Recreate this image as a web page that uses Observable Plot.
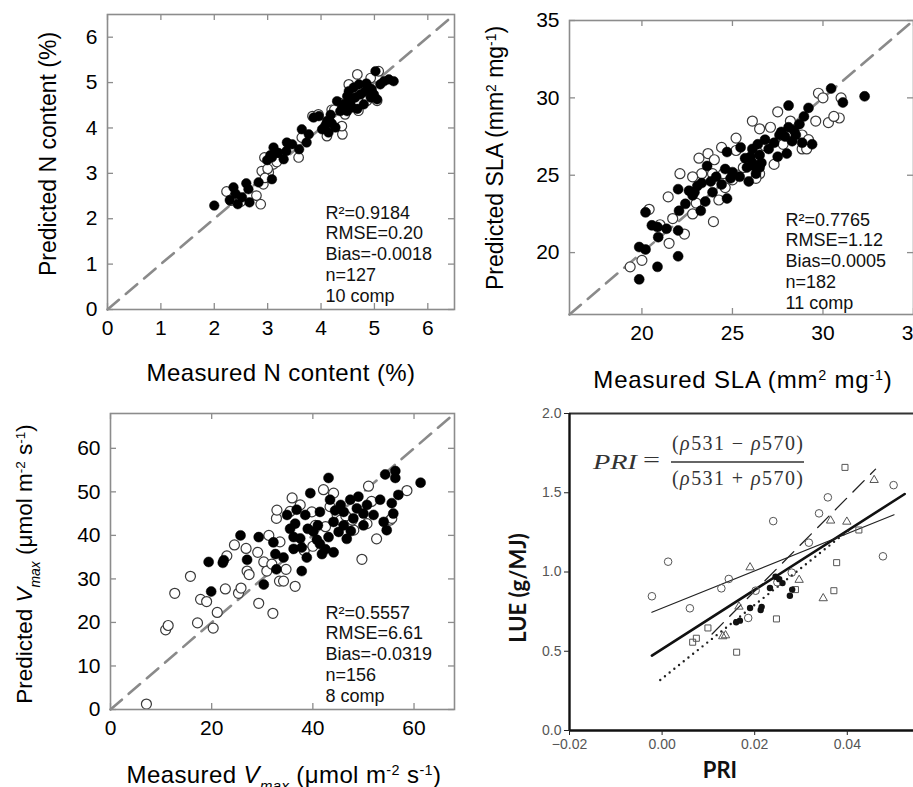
<!DOCTYPE html>
<html><head><meta charset="utf-8">
<script src="https://cdn.jsdelivr.net/npm/d3@7"></script>
<script src="https://cdn.jsdelivr.net/npm/@observablehq/plot@0.6"></script>
<style>
html,body{margin:0;padding:0;background:#fff;}
#wrap{position:relative;width:913px;height:787px;overflow:hidden;background:#fff;}
</style></head><body><div id="wrap"></div>
<script>
// ---------- Panel A: N content ----------
const nTicks = [0,1,2,3,4,5,6];
const nDomain = [0, 6.5];
const nStats = ["R²=0.9184","RMSE=0.20","Bias=-0.0018","n=127","10 comp"];
const nFilled = [[2.00,2.29],[2.29,2.41],[2.36,2.69],[2.44,2.32],[2.52,2.47],[2.60,2.78],[2.64,2.65],[2.66,2.36],[2.83,2.80],[3.08,2.87],[2.99,3.29],[3.11,3.57],[3.08,3.35],[3.30,3.31],[3.35,3.49],[3.36,3.68],[3.46,3.64],[3.59,3.53],[3.64,3.97],[3.73,3.68],[3.77,3.86],[3.86,4.23],[3.96,4.26],[4.02,3.97],[4.11,4.15],[4.14,3.90],[4.18,4.29],[4.27,4.01],[4.30,4.59],[4.36,4.37],[4.43,4.52],[4.49,4.70],[4.52,4.81],[4.58,4.45],[4.61,4.89],[4.64,4.67],[4.71,4.96],[4.74,4.74],[4.80,4.52],[4.83,4.81],[4.89,4.89],[4.93,4.67],[4.99,4.74],[5.02,5.25],[5.05,4.63],[5.11,4.96],[5.18,5.03],[5.27,5.07],[5.36,5.03],[4.49,4.37],[4.40,4.45],[4.55,4.55],[4.68,4.42],[4.85,4.98],[4.95,4.85],[3.05,3.40],[3.20,3.45],[4.08,4.05],[2.40,2.55],[4.20,4.10]];
const nOpen = [[2.23,2.60],[2.31,2.40],[2.50,2.38],[2.79,2.51],[2.87,2.32],[2.92,2.76],[2.94,3.35],[2.89,3.05],[3.02,3.02],[3.11,3.20],[3.17,3.25],[3.58,3.35],[3.64,3.79],[3.84,4.26],[4.11,3.82],[4.40,3.86],[4.39,4.04],[4.35,4.55],[4.68,5.18],[4.52,4.96],[4.93,5.10],[5.08,5.25],[4.45,4.30],[4.70,4.38],[4.20,4.40],[3.95,4.30],[4.86,4.60],[5.05,4.60],[4.25,4.40],[4.60,4.70],[3.00,3.10],[2.95,2.90]];

// ---------- Panel B: SLA ----------
const slaTicks = [20,25,30,35];
const slaDomain = [16, 35];
const slaStats = ["R²=0.7765","RMSE=1.12","Bias=0.0005","n=182","11 comp"];
const slaFilled = [[19.85,18.27],[19.85,20.36],[20.2,20.2],[20.2,22.6],[20.55,21.76],[20.86,21.65],[20.9,21.0],[20.86,19.08],[21.36,21.54],[22.0,21.43],[22.0,19.76],[22.0,24.1],[22.05,22.7],[22.4,23.15],[22.6,24.0],[22.8,23.7],[23.06,24.3],[23.25,22.7],[23.3,24.5],[23.5,23.3],[23.6,25.6],[23.9,23.9],[24.1,24.9],[24.4,24.4],[24.6,25.4],[24.7,26.5],[24.7,23.5],[25.0,25.2],[25.4,24.9],[25.45,26.8],[25.7,26.1],[25.8,25.5],[25.9,24.6],[26.1,26.7],[26.1,25.8],[26.3,25.1],[26.4,27.0],[26.5,26.3],[26.5,25.5],[26.6,25.8],[26.8,27.3],[27.0,26.7],[27.3,27.1],[27.5,26.2],[27.6,27.6],[27.7,27.8],[28.0,26.4],[28.1,28.1],[28.1,29.5],[28.3,27.2],[28.5,27.6],[28.7,28.3],[28.95,28.8],[29.2,29.35],[29.4,27.0],[30.45,30.6],[31.1,29.7],[32.3,30.1],[28.85,27.1],[26.0,26.2],[26.2,25.6],[23.8,24.6],[22.9,23.9],[24.9,24.8],[27.9,27.5],[28.4,27.9]];
const slaOpen = [[19.35,19.08],[20.0,19.5],[20.4,22.8],[21.45,23.6],[21.5,20.6],[22.1,25.1],[22.35,21.2],[21.7,22.2],[22.8,22.5],[23.15,26.1],[23.65,26.4],[23.95,22.0],[24.25,23.4],[24.4,26.8],[24.5,25.1],[25.2,27.4],[25.0,24.7],[26.1,28.5],[26.5,25.1],[26.5,28.0],[27.1,28.1],[27.5,29.1],[27.3,25.7],[28.2,28.5],[28.85,26.7],[29.1,26.7],[28.85,27.6],[29.75,30.3],[30.0,30.0],[30.3,28.4],[30.9,28.7],[31.0,30.0],[30.6,28.8],[25.6,25.5],[23.9,25.1],[23.3,25.1],[22.8,24.9],[24.0,26.0],[25.2,26.6],[26.8,26.9],[27.8,27.0],[29.2,27.3],[21.0,21.8],[23.0,23.2],[24.6,24.2],[26.3,24.8],[29.6,28.5]];

// ---------- Panel C: Vmax ----------
const vTicksX = [0,20,40,60];
const vTicksY = [0,10,20,30,40,50,60];
const vDomain = [0, 68];
const vStats = ["R²=0.5557","RMSE=6.61","Bias=-0.0319","n=156","8 comp"];
const vFilled = [[19.4,33.9],[19.9,27.1],[22.2,33.7],[22.4,34.3],[25.7,40.0],[27.0,34.4],[29.3,39.6],[30.3,28.7],[32.2,38.4],[32.6,35.7],[32.8,32.2],[34.2,34.9],[34.9,44.7],[35.5,41.5],[36.2,36.9],[36.5,42.7],[36.8,45.9],[37.5,39.3],[37.8,31.8],[38.5,44.7],[38.8,34.9],[39.5,49.7],[40.1,40.9],[40.8,39.0],[41.4,45.4],[41.8,35.7],[43.1,53.2],[43.4,48.2],[44.1,43.1],[44.1,36.1],[45.1,40.8],[46.1,45.4],[46.7,39.2],[47.4,48.2],[48.0,43.9],[48.7,46.2],[49.0,48.9],[50.0,42.3],[50.7,47.0],[52.0,44.7],[53.3,48.2],[54.0,43.1],[54.3,54.0],[54.6,41.2],[55.6,47.4],[55.9,45.0],[56.3,54.8],[56.3,53.2],[56.9,49.3],[61.3,52.1],[41.0,42.3],[43.1,39.6],[44.4,45.7],[46.1,42.3],[36.2,39.6],[37.8,37.2],[41.4,38.0],[39.0,41.5],[42.5,36.8],[47.5,41.0],[45.5,47.0],[50.0,45.0]];
const vOpen = [[7.1,1.25],[10.9,18.3],[11.4,19.3],[12.7,26.7],[15.8,30.6],[17.2,19.9],[17.8,25.3],[19.0,24.8],[20.3,18.7],[21.1,22.3],[22.7,27.7],[23.0,35.3],[24.5,37.8],[25.3,26.7],[25.8,27.9],[26.8,37.0],[27.0,31.8],[27.4,31.0],[29.1,36.1],[29.3,24.4],[30.3,33.9],[30.9,31.8],[31.3,40.0],[31.9,33.4],[32.1,22.1],[32.8,43.9],[32.9,45.8],[33.4,29.5],[34.2,29.5],[34.7,32.2],[35.9,48.6],[36.5,28.3],[37.5,47.0],[38.3,36.5],[39.8,45.4],[40.5,42.3],[42.1,50.5],[43.4,46.6],[44.1,49.7],[44.8,44.7],[45.5,43.5],[48.1,41.2],[49.7,34.5],[50.7,42.7],[51.0,51.3],[51.6,47.8],[52.6,39.2],[55.3,43.5],[55.6,43.9],[58.6,50.3],[47.8,43.5],[40.0,37.5],[35.5,45.5],[46.5,44.5],[42.5,42.0],[33.5,38.5]];

// ---------- Panel D: LUE vs PRI ----------
const priTicks = [-0.02, 0, 0.02, 0.04];
const lueTicks = [0, 0.5, 1, 1.5, 2];
const priDomain = [-0.02, 0.0543];
const lueDomain = [0, 2];
const priCircles = [[-0.0022,0.847],[0.0013,1.065],[0.006,0.771],[0.0128,0.897],[0.0144,0.956],[0.024,1.321],[0.0339,1.37],[0.0358,1.471],[0.028,0.996],[0.05,1.548],[0.0477,1.099],[0.0186,0.71],[0.0202,0.882],[0.0249,0.935],[0.0317,1.185]];
const priTriangles = [[0.019,1.029],[0.0166,0.781],[0.0137,0.60],[0.0131,0.594],[0.0364,1.324],[0.0399,1.317],[0.0458,1.58],[0.0348,0.834],[0.0296,0.95]];
const priSquares = [[0.0395,1.66],[0.0425,1.265],[0.0377,1.059],[0.0371,0.882],[0.0288,0.889],[0.0247,0.704],[0.0099,0.647],[0.0161,0.494],[0.0066,0.557],[0.0074,0.582]];
const priFilled = [[0.0168,0.693],[0.0160,0.683],[0.019,0.773],[0.0213,0.76],[0.0215,0.78],[0.0233,0.899],[0.0245,0.97],[0.026,0.93],[0.0276,0.85],[0.0281,0.889],[0.0253,0.955]];
const fitAll = [[-0.0022,0.473],[0.0524,1.492]];
const fitCircles = [[-0.0022,0.746],[0.0501,1.361]];
const fitDotted = [[-0.0004,0.319],[0.0411,1.282]];
const fitDashed = [[0.0108,0.609],[0.0461,1.649]];

// ---------- helpers ----------
const wrap = document.getElementById("wrap");
const FONT = "'Liberation Sans', Arial, sans-serif";
function place(svg, left, top) {
  svg.style.position = "absolute";
  svg.style.left = left + "px";
  svg.style.top = top + "px";
  wrap.appendChild(svg);
  return svg;
}
function rich(svg, x, y, parts, {size = 24, rotate = 0, family = FONT, weight = "normal", fill = "#000", spacing = 0.4} = {}) {
  const t = d3.select(svg).append("text")
    .attr("transform", `translate(${x},${y}) rotate(${rotate})`)
    .attr("text-anchor", "middle")
    .attr("font-family", family).attr("font-size", size)
    .attr("letter-spacing", spacing)
    .attr("font-weight", weight).attr("fill", fill);
  for (const p of parts) {
    const s = t.append("tspan").text(p.t);
    if (p.i) s.attr("font-style", "italic");
    if (p.sup) s.attr("baseline-shift", "super").attr("font-size", size * 0.6);
    if (p.sub) s.attr("baseline-shift", "sub").attr("font-size", size * 0.62);
  }
  return t;
}
const px = d => d[0], py = d => d[1];

function matlab({w, h, mt, mb, ml, mr, domain, ticksX, ticksY, filled, open, stats, r, sdx, sdy}) {
  const fw = w - ml - mr, fh = h - mt - mb, tl = 6, gray = "#8c8c8c";
  return Plot.plot({
    width: w, height: h, marginTop: mt, marginBottom: mb, marginLeft: ml, marginRight: mr,
    style: {background: "transparent", fontFamily: FONT, fontSize: "21px", color: "#000", overflow: "visible"},
    x: {domain, label: null}, y: {domain, label: null},
    marks: [
      Plot.line(domain.map(v => [v, v]), {x: px, y: py, stroke: "#8a8a8a", strokeWidth: 2.6, strokeDasharray: "15,9"}),
      Plot.dot(open, {x: px, y: py, r, fill: "white", stroke: "#3a3a3a", strokeWidth: 1.2}),
      Plot.dot(filled, {x: px, y: py, r, fill: "#000", stroke: "#000", strokeWidth: 0.5}),
      Plot.tickX(ticksX, {x: d => d, insetTop: fh - tl, stroke: gray, strokeWidth: 1.3}),
      Plot.tickX(ticksX, {x: d => d, insetBottom: fh - tl, stroke: gray, strokeWidth: 1.3}),
      Plot.tickY(ticksY, {y: d => d, insetRight: fw - tl, stroke: gray, strokeWidth: 1.3}),
      Plot.tickY(ticksY, {y: d => d, insetLeft: fw - tl, stroke: gray, strokeWidth: 1.3}),
      Plot.frame({stroke: gray, strokeWidth: 1.6}),
      Plot.axisX({ticks: ticksX, tickSize: 0, tickPadding: 11, label: null, tickFormat: d => String(d)}),
      Plot.axisY({ticks: ticksY, tickSize: 0, tickPadding: 10, label: null, tickFormat: d => String(d)}),
      Plot.text([stats.join("\n")], {frameAnchor: "bottom-right", textAnchor: "start", lineAnchor: "bottom", dx: sdx, dy: sdy, fontSize: 18, lineHeight: 1.15, fill: "#111"})
    ]
  });
}

// Panel A
const pA = place(matlab({w: 460, h: 395, mt: 14, mb: 86, ml: 107, mr: 6, domain: nDomain, ticksX: nTicks, ticksY: nTicks,
  filled: nFilled, open: nOpen, stats: nStats, r: 4.8, sdx: -129, sdy: -8}), 0, 0);
rich(pA, 281, 381, [{t: "Measured N content (%)"}]);
rich(pA, 56, 154, [{t: "Predicted N content (%)"}], {rotate: -90, size: 23, spacing: 0});

// Panel B
const pB = place(matlab({w: 453, h: 395, mt: 20, mb: 81, ml: 109, mr: 0, domain: slaDomain, ticksX: slaTicks, ticksY: slaTicks,
  filled: slaFilled, open: slaOpen, stats: slaStats, r: 5, sdx: -128, sdy: -6}), 460, 0);
rich(pB, 283, 388, [{t: "Measured SLA (mm"}, {t: "2", sup: true}, {t: " mg"}, {t: "-1", sup: true}, {t: ")"}], {spacing: 0.8});
rich(pB, 43, 158, [{t: "Predicted SLA (mm"}, {t: "2", sup: true}, {t: " mg"}, {t: "-1", sup: true}, {t: ")"}], {rotate: -90, size: 23, spacing: 0});

// Panel C
const pC = place(matlab({w: 460, h: 417, mt: 43, mb: 78, ml: 110, mr: 6, domain: vDomain, ticksX: vTicksX, ticksY: vTicksY,
  filled: vFilled, open: vOpen, stats: vStats, r: 5, sdx: -129, sdy: -8}), 0, 370);
const vUnit = [{t: " (μmol m"}, {t: "-2", sup: true}, {t: " s"}, {t: "-1", sup: true}, {t: ")"}];
rich(pC, 284, 413, [{t: "Measured "}, {t: "V", i: true}, {t: "max", sub: true, i: true}, ...vUnit]);
rich(pC, 32, 194, [{t: "Predicted "}, {t: "V", i: true}, {t: "max", sub: true, i: true}, ...vUnit], {rotate: -90, size: 22.5, spacing: 0});

// Panel D
const pD = place(Plot.plot({
  width: 453, height: 417, marginTop: 43, marginBottom: 57, marginLeft: 109, marginRight: 0,
  style: {background: "transparent", fontFamily: FONT, fontSize: "14px", overflow: "visible"},
  x: {domain: priDomain, label: null}, y: {domain: lueDomain, label: null},
  marks: [
    Plot.line(fitAll, {x: px, y: py, stroke: "#111", strokeWidth: 2.6}),
    Plot.line(fitCircles, {x: px, y: py, stroke: "#222", strokeWidth: 1.2}),
    Plot.line(fitDotted, {x: px, y: py, stroke: "#222", strokeWidth: 2.4, strokeDasharray: "0,6", strokeLinecap: "round"}),
    Plot.line(fitDashed, {x: px, y: py, stroke: "#222", strokeWidth: 1.3, strokeDasharray: "16,9"}),
    Plot.dot(priCircles, {x: px, y: py, r: 3.8, stroke: "#555", fill: "none", strokeWidth: 1}),
    Plot.dot(priTriangles, {x: px, y: py, r: 3.1, symbol: "triangle", stroke: "#555", fill: "none", strokeWidth: 1}),
    Plot.dot(priSquares, {x: px, y: py, r: 3.4, symbol: "square", stroke: "#555", fill: "none", strokeWidth: 1}),
    Plot.dot(priFilled, {x: px, y: py, r: 3.2, fill: "#111"}),
    Plot.ruleY([lueDomain[1]], {stroke: "#333", strokeWidth: 2}),
    Plot.ruleX([priDomain[1]], {stroke: "#ccc", strokeWidth: 1}),
    Plot.ruleY([lueDomain[0]], {stroke: "#111", strokeWidth: 2.6}),
    Plot.ruleX([priDomain[0]], {stroke: "#111", strokeWidth: 2.4}),
    Plot.axisX({ticks: priTicks, tickSize: 5, tickPadding: 4, stroke: "#222", fill: "#555", label: null, tickFormat: d3.format(".2f")}),
    Plot.axisY({ticks: lueTicks, tickSize: 5, tickPadding: 3, stroke: "#222", fill: "#555", label: null, tickFormat: d3.format(".1f")})
  ]
}), 460, 370);
rich(pD, 66, 218, [{t: "LUE (g/MJ)"}], {rotate: -90, family: "Lato, 'Open Sans', sans-serif", weight: "bold", size: 22, fill: "#111", spacing: 0});
rich(pD, 260, 408, [{t: "PRI"}], {family: "Lato, 'Open Sans', sans-serif", weight: "bold", size: 22, fill: "#111", spacing: 0});

// formula
const SERIF = "'Liberation Serif', 'DejaVu Serif', serif";
const g = d3.select(pD).append("g").attr("font-family", SERIF).attr("fill", "#333").attr("font-size", 20).attr("text-anchor", "start");
g.append("text").attr("x", 133).attr("y", 99).attr("font-style", "italic").attr("textLength", 44).attr("lengthAdjust", "spacingAndGlyphs").text("PRI");
g.append("text").attr("x", 183).attr("y", 97).attr("textLength", 17).attr("lengthAdjust", "spacingAndGlyphs").text("=");
function frac(y, op) {
  const t = g.append("text").attr("x", 212).attr("y", y).attr("textLength", 131).attr("lengthAdjust", "spacing");
  t.append("tspan").text("(");
  t.append("tspan").attr("font-style", "italic").text("ρ");
  t.append("tspan").text("531 " + op + " ");
  t.append("tspan").attr("font-style", "italic").text("ρ");
  t.append("tspan").text("570)");
}
frac(80, "−");
frac(115, "+");
g.append("line").attr("x1", 211).attr("x2", 344).attr("y1", 92).attr("y2", 92).attr("stroke", "#333").attr("stroke-width", 1.3);
</script></body></html>
